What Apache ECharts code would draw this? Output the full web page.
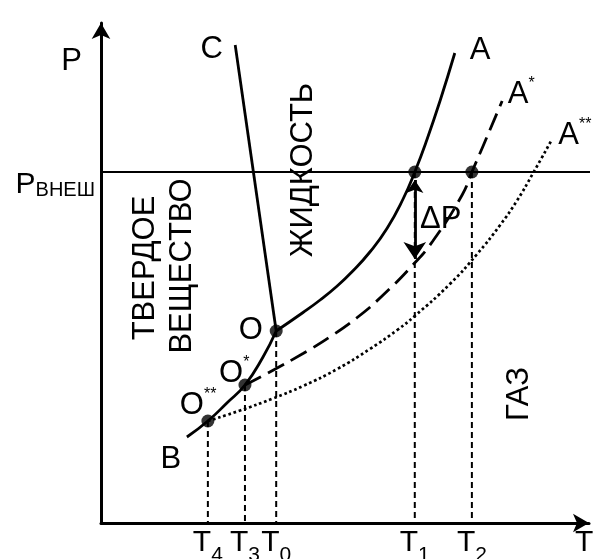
<!DOCTYPE html>
<html><head><meta charset="utf-8">
<script src="https://cdn.jsdelivr.net/npm/echarts@6/dist/echarts.min.js"></script>
<style>html,body{margin:0;padding:0;background:#fff}#c{width:597px;height:559px}</style>
</head><body><div id="c"></div>
<script>
// ---- data (arbitrary units: T 0..100, P 0..100) ----
const tSubs   = ['4', '3', '0', '1', '2'];
const tValues = [21.9, 29.5, 35.9, 64.3, 76.0];
const pAtT    = [20.4, 27.6, 38.4, 70.2, 70.2];
const pExt = 70.2;
const pExtLine = [0, 100.8];

const sublimation = [[17.6,17.2],[21.9,20.4],[25.8,24.0],[29.5,27.6],[33.2,33.2],[35.9,38.4]];
const melting = [[35.9,38.4],[27.5,95.6]];
const boilA = [[35.9,38.4],[41.4,42.1],[44.9,44.6],[48.4,47.4],[51.6,50.4],[55.1,54.2],[58.6,58.9],[61.9,64.8],[64.3,70.2],[66.8,76.7],[69.5,84.5],[72.5,94.0]];
const boilA1 = [[29.5,27.6],[34.6,30.2],[41.4,33.9],[46.9,37.2],[52.5,41.1],[57.6,45.4],[63.9,51.6],[68.0,56.4],[74.0,65.6],[76.0,70.2],[78.3,75.4],[82.2,84.4]];
const boilA2 = [[21.9,20.4],[28.5,22.5],[35.2,24.9],[41.4,27.4],[48.4,30.8],[55.1,34.8],[60.7,38.6],[64.3,41.4],[71.5,47.8],[77.0,53.7],[81.8,59.6],[85.2,64.4],[88.5,69.9],[92.4,76.7]];
const points = [[35.9,38.4],[29.5,27.6],[21.9,20.4],[64.3,70.2],[76.0,70.2]];
const deltaP = [[64.3,68.6],[64.3,52.8]];

const annoText = ['C','A','A*','A**','O','O*','O**','B','ΔP','ЖИДКОСТЬ','ТВЕРДОЕ','ВЕЩЕСТВО','ГАЗ'];
const annoX    = [22.7, 77.7, 86.1, 97.1, 30.7, 27.3, 19.9, 14.3, 69.6, 41.2, 8.8, 16.4, 85.5];
const annoY    = [95.0, 94.8, 86.0, 77.8, 38.8, 30.2, 23.8, 13.0, 61.0, 70.6, 51.0, 51.4, 25.8];
const annoRot  = [0,0,0,0,0,0,0,0,0,90,90,90,90];

const FONT = 'Liberation Sans, Arial, sans-serif';
const chart = echarts.init(document.getElementById('c'), null, {renderer:'canvas'});

function curve(data, dash, width, smooth) {
  return {type:'line', data, symbol:'none', showSymbol:false, smooth, clip:false, silent:true,
    lineStyle:{color:'#000', width, type:dash, cap:'butt'}, z:2};
}

const series = [
  curve(sublimation, 'solid', 2.8, 0.5),
  curve(melting, 'solid', 2.8, false),
  curve(boilA, 'solid', 2.8, 0.5),
  curve(boilA1, [18, 8], 2.8, 0.5),
  curve(boilA2, [2.7, 2.7], 2.7, 0.5),
  curve([[pExtLine[0], pExt],[pExtLine[1], pExt]], 'solid', 2, false),
  ...tValues.map((t, i) => curve([[t, pAtT[i]], [t, 0]], [6, 4], 2, false)),
  {type:'scatter', data: points, symbol:'circle', symbolSize:13, itemStyle:{color:'#000'}, z:5, silent:true},
  {type:'lines', coordinateSystem:'cartesian2d', data:[{coords: deltaP}], symbol:['arrow','arrow'], symbolSize:[13,17],
    lineStyle:{color:'#000', width:2.8, opacity:1}, z:4, silent:true},
  {type:'scatter', symbolSize:0, itemStyle:{color:'#000', opacity:1}, silent:true, z:6,
    data: annoText.map((t, i) => {
      const m = t.match(/^([^*]+)(\*+)?$/);
      const fmt = m[2] ? '{m|' + m[1] + '}{s|' + m[2] + '}' : '{m|' + m[1] + '}';
      return {value:[annoX[i], annoY[i]], label:{formatter: fmt, rotate: annoRot[i]}};
    }),
    label:{show:true, position:'inside', color:'#000', opacity:1, fontFamily:FONT,
      rich:{m:{fontSize:31, fontFamily:FONT, color:'#000', opacity:1, padding:[3,0,0,0]},
            s:{fontSize:16, fontFamily:FONT, color:'#000', opacity:1, verticalAlign:'top', lineHeight:16}}}
  }
];

chart.setOption({
  animation:false,
  backgroundColor:'#fff',
  grid:{left:101, right:8, top:23, bottom:36, containLabel:false, outerBoundsMode:'none'},
  xAxis:{type:'value', min:0, max:100,
    name:'T', nameLocation:'end', nameGap:-14,
    nameTextStyle:{fontSize:30, fontFamily:FONT, color:'#000', align:'left', verticalAlign:'top', padding:[5,0,0,0]},
    axisLine:{show:true, onZero:false, symbol:['none','arrow'], symbolSize:[14,16], lineStyle:{color:'#000', width:3}},
    axisTick:{show:false}, splitLine:{show:false},
    axisLabel:{show:true, customValues: tValues, margin:5, color:'#000', fontFamily:FONT,
      formatter: function(v){ let k = 0, best = 1e9; tValues.forEach((t,i)=>{ if (Math.abs(t-v) < best) { best = Math.abs(t-v); k = i; } }); return '{t|T}{s|' + tSubs[k] + '}'; },
      rich:{t:{fontSize:30, fontFamily:FONT, color:'#000', verticalAlign:'top', lineHeight:30},
            s:{fontSize:21, fontFamily:FONT, color:'#000', padding:[17,0,0,0]}}}
  },
  yAxis:{type:'value', min:0, max:100,
    name:'P', nameLocation:'end', nameGap:-38,
    nameTextStyle:{fontSize:31, fontFamily:FONT, color:'#000', align:'right', verticalAlign:'middle', padding:[0,19,0,0]},
    axisLine:{show:true, onZero:false, symbol:['none','arrow'], symbolSize:[14,16], lineStyle:{color:'#000', width:3}},
    axisTick:{show:false}, splitLine:{show:false},
    axisLabel:{show:true, customValues:[pExt], margin:6, color:'#000', verticalAlign:'top', fontFamily:FONT,
      formatter: function(){ return '{p|P}{s|ВНЕШ}'; },
      rich:{p:{fontSize:30, fontFamily:FONT, color:'#000', verticalAlign:'bottom', lineHeight:28},
            s:{fontSize:20, fontFamily:FONT, color:'#000', verticalAlign:'bottom', lineHeight:20}}}
  },
  series
});
</script></body></html>
